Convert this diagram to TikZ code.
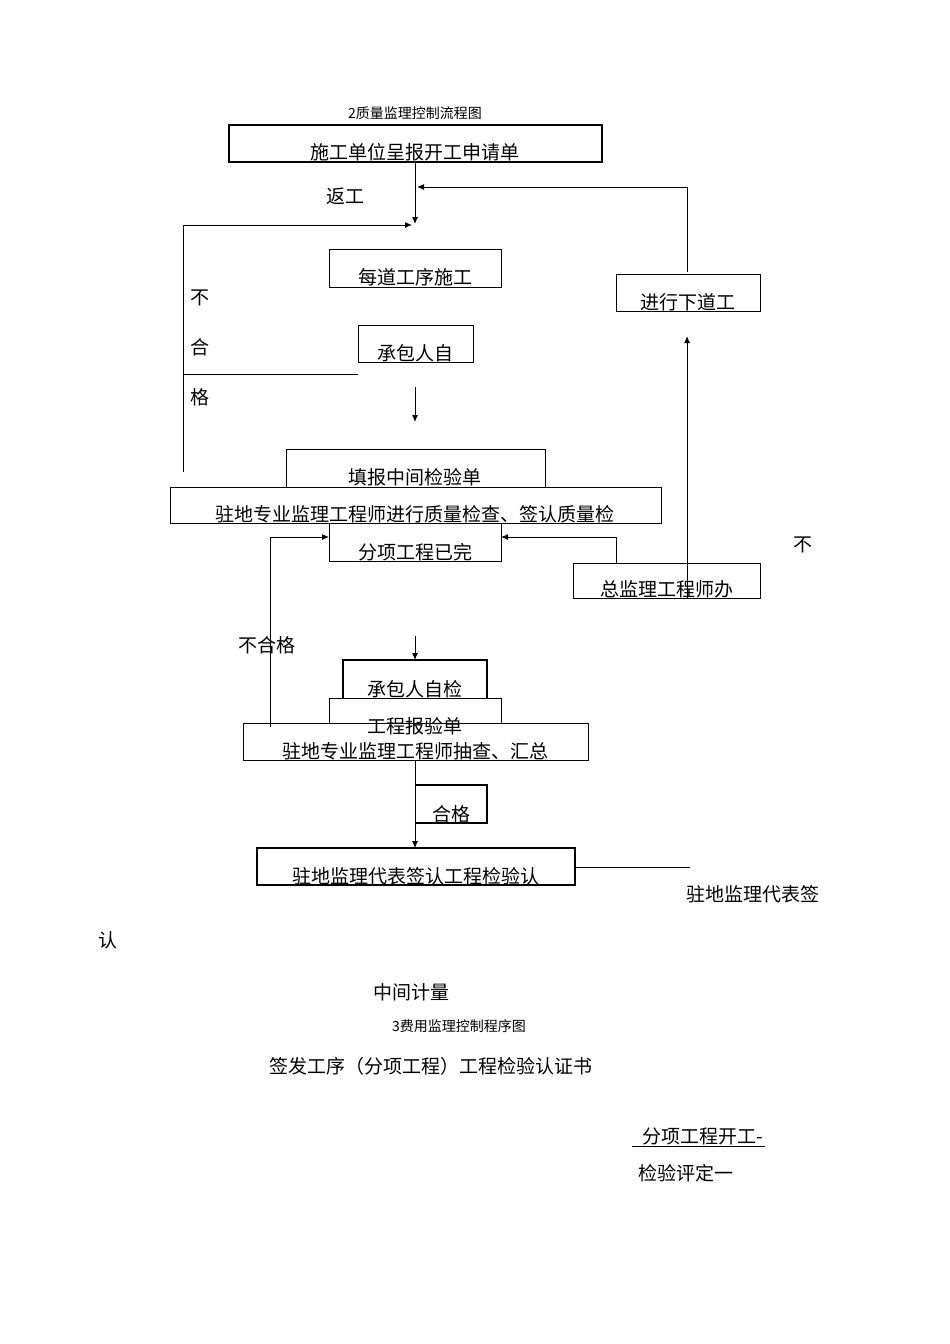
\documentclass[tikz,border=0pt]{standalone}
\usepackage{fontspec}
\newfontfamily\cjk{Noto Sans CJK SC}
\tikzset{
 bx/.style={draw,line width=0.8pt},
 tbx/.style={draw,line width=1.8pt},
 ln/.style={line width=1pt},
 ar/.style={line width=1pt,-{Latex[length=7pt,width=6pt]}},
 tx/.style={font=\cjk\fontsize{19}{19}\selectfont,inner sep=0pt,anchor=base},
 sm/.style={font=\cjk\fontsize{14}{14}\selectfont,inner sep=0pt,anchor=base}
}
\usetikzlibrary{arrows.meta}
\begin{document}
\begin{tikzpicture}[x=1pt,y=-1pt]
\useasboundingbox[fill=white] (0,0) rectangle (950,1344);
\node[sm] (t1) at (415,118) {2质量监理控制流程图};
\draw[tbx] (229,125) rectangle (602,162);
\node[tx] (b1) at (415,159) {施工单位呈报开工申请单};
\node[tx] (fg) at (345,203) {返工};
\coordinate (j) at (415,224);
\draw[ar] (415,162) -- (j);
\draw[ar] (687,272) -- (687,187) -- (417,187);
\draw[ar] (183,472) -- (183,225) -- (412,225);
\draw[bx] (329,249) rectangle (501,287);
\node[tx] (b2) at (415,284) {每道工序施工};
\draw[bx] (616,274) rectangle (760,311);
\node[tx] (b3) at (688,309) {进行下道工};
\node[tx] (n1) at (200,304) {不};
\node[tx] (n2) at (200,354) {合};
\node[tx] (n3) at (200,404) {格};
\draw[bx] (358,325) rectangle (473,362);
\node[tx] (b4) at (415,360) {承包人自};
\draw[ln] (183,374) -- (358,374);
\draw[ar] (415,387) -- (415,422);
\draw[bx] (286,449) rectangle (545,487);
\node[tx] (b5) at (415,484) {填报中间检验单};
\draw[bx,fill=white] (170,487) rectangle (661,523);
\node[tx] (b6) at (415,521) {驻地专业监理工程师进行质量检查、签认质量检};
\draw[bx] (329,523) rectangle (501,561);
\node[tx] (b7) at (415,559) {分项工程已完};
\draw[ar] (270,727) -- (270,537) -- (329,537);
\draw[ar] (616,563) -- (616,537) -- (501,537);
\draw[bx] (573,563) rectangle (760,598);
\node[tx] (b8) at (667,596) {总监理工程师办};
\draw[ar] (687,598) -- (687,336);
\node[tx] (n4) at (803,551) {不};
\node[tx] (n5) at (267,652) {不合格};
\draw[ar] (415,636) -- (415,660);
\draw[tbx] (343,698) -- (343,660) -- (487,660) -- (487,698);
\node[tx] (b9) at (415,696) {承包人自检};
\draw[bx] (329,698) rectangle (501,723);
\node[tx] (b10) at (415,733) {工程报验单};
\draw[bx] (243,723) rectangle (588,760);
\node[tx] (b11) at (415,758) {驻地专业监理工程师抽查、汇总};
\draw[ar] (415,760) -- (415,848);
\draw[tbx] (415,785) -- (487,785) -- (487,823) -- (415,823);
\node[tx] (b12) at (451,821) {合格};
\draw[tbx] (257,848) rectangle (575,885);
\node[tx] (b13) at (416,883) {驻地监理代表签认工程检验认};
\draw[ln] (575,867) -- (690,867);
\node[tx] (c1) at (753,901) {驻地监理代表签};
\node[tx] (c2) at (108,947) {认};
\node[tx] (c3) at (411,999) {中间计量};
\node[sm] (c4) at (459,1031) {3费用监理控制程序图};
\node[tx] (c5) at (431,1073) {签发工序（分项工程）工程检验认证书};
\node[tx] (c6) at (703,1143) {分项工程开工-};
\draw[ln] (632,1146) -- (765,1146);
\node[tx] (c7) at (686,1180) {检验评定一};
\end{tikzpicture}
\end{document}
